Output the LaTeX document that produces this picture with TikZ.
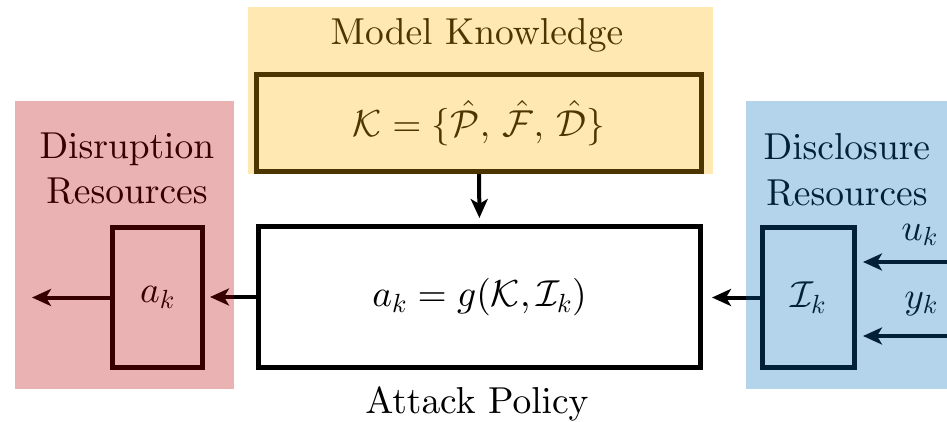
\documentclass[tikz,border=0pt]{standalone}
\usetikzlibrary{arrows.meta}
% scalable Computer Modern fonts, so text and formulas keep one design at the large size
\DeclareFontFamily{OT1}{bigcmr}{\hyphenchar\font=45}
\DeclareFontShape{OT1}{bigcmr}{m}{n}{<->cmr10}{}
\DeclareFontFamily{OML}{bigcmm}{\skewchar\font=127}
\DeclareFontShape{OML}{bigcmm}{m}{it}{<->cmmi10}{}
\DeclareFontFamily{OMS}{bigcmsy}{\skewchar\font=48}
\DeclareFontShape{OMS}{bigcmsy}{m}{n}{<->cmsy10}{}
\SetSymbolFont{operators}{normal}{OT1}{bigcmr}{m}{n}
\SetSymbolFont{letters}{normal}{OML}{bigcmm}{m}{it}
\SetSymbolFont{symbols}{normal}{OMS}{bigcmsy}{m}{n}
\newcommand{\bigcm}{\fontencoding{OT1}\fontfamily{bigcmr}\fontsize{37.5}{45}\selectfont}
% translucent tints laid over the black drawing
\definecolor{tintred}{RGB}{185,0,0}
\definecolor{tintyellow}{RGB}{255,178,0}
\definecolor{tintblue}{RGB}{8,112,192}

\begin{document}
\begin{tikzpicture}[x=1pt,y=-1pt,
  lbl/.style={font=\bigcm, inner sep=0pt},
  box/.style={draw=black, line width=5pt, inner sep=0pt, lbl},
  tint/.style={fill opacity=0.3, inner sep=0pt, outer sep=0pt, draw=none},
  link/.style={line width=4pt, -{Stealth[length=19pt,width=17pt,inset=5pt]}},
]
\useasboundingbox (0,0) rectangle (947,422);

% blocks
\node[box, minimum width=445pt, minimum height=97pt] (know) at (479,123)
  {$\mathcal{K}=\{\hat{\mathcal{P}},\,\hat{\mathcal{F}},\,\hat{\mathcal{D}}\}$};
\node[box, minimum width=442pt, minimum height=141pt] (policy) at (479.5,297)
  {$a_k = g(\mathcal{K},\mathcal{I}_k)$};
\node[box, minimum width=90pt, minimum height=140pt] (act) at (157.5,297.5) {$a_k$};
\node[box, minimum width=92pt, minimum height=140pt] (info) at (808.5,297.5) {$\mathcal{I}_k$};

% titles
\node[lbl, anchor=base] (ktitle) at (477,45) {Model Knowledge};
\node[lbl, anchor=base] (dtitle1) at (127,159) {Disruption};
\node[lbl, anchor=base] (dtitle2) at (127,204) {Resources};
\node[lbl, anchor=base] (ititle1) at (847,160) {Disclosure};
\node[lbl, anchor=base] (ititle2) at (847,205) {Resources};
\node[lbl, anchor=base] (ptitle) at (477,413) {Attack Policy};

% external signals
\coordinate (uin) at (947,262);
\coordinate (yin) at (947,336);
\coordinate (aout) at (32,297.5);
\node[lbl, anchor=base east] (ulbl) at (938,240) {$u_k$};
\node[lbl, anchor=base east] (ylbl) at (938,308) {$y_k$};

% connectors
\draw[link, shorten >=6pt] (know.south) -- (policy.north);
\draw[link, shorten >=5pt] (policy.west) -- (policy.west -| act.east);
\draw[link] (act.west) -- (aout);
\draw[link, shorten >=9pt] (info.west) -- (info.west -| policy.east);
\draw[link, shorten >=6pt] (uin) -- (uin -| info.east);
\draw[link, shorten >=6pt] (yin) -- (yin -| info.east);

% coloured regions
\node[tint, fill=tintyellow, minimum width=465pt, minimum height=167pt] (kregion) at (480.5,90.5) {};
\node[tint, fill=tintred, minimum width=219pt, minimum height=288pt] (dregion) at (124.5,245) {};
\node[tint, fill=tintblue, minimum width=201pt, minimum height=288pt] (iregion) at (846.5,245) {};
\end{tikzpicture}
\end{document}
